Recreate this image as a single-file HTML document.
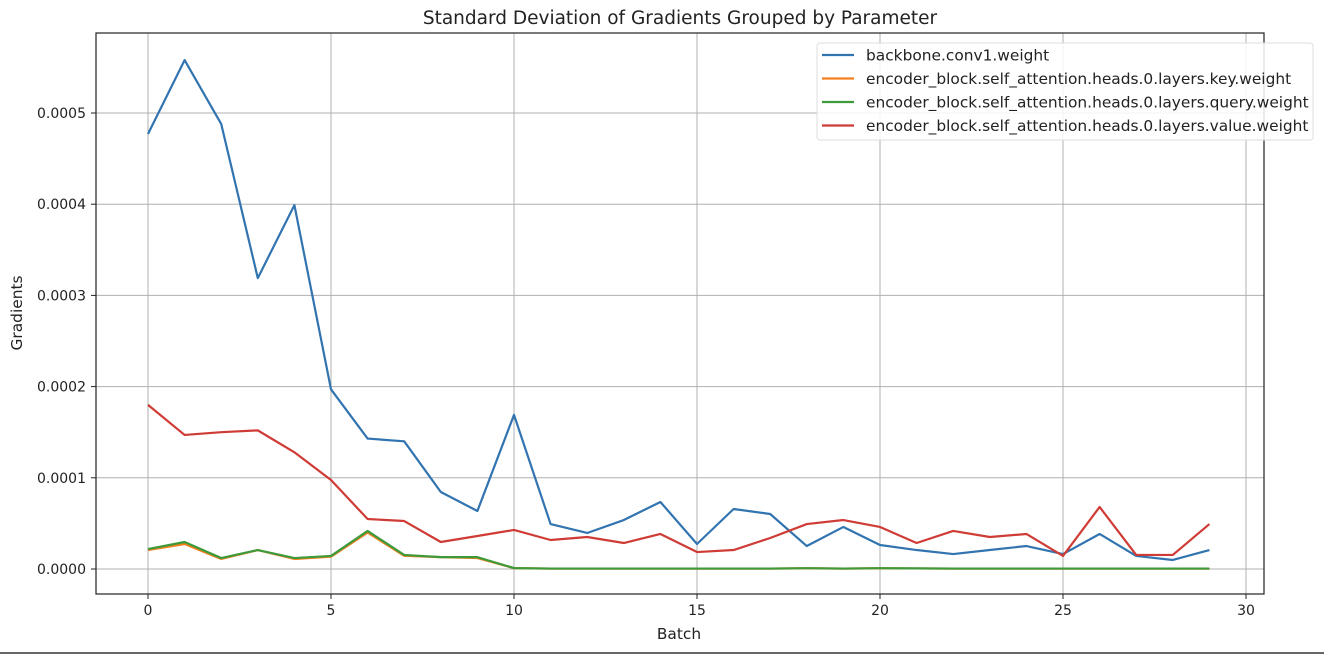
<!DOCTYPE html>
<html><head><meta charset="utf-8"><style>
html,body{margin:0;padding:0;background:#fff;}
svg{display:block;font-family:"DejaVu Sans","Liberation Sans",sans-serif;}
</style></head><body>
<svg id="chart" width="1324" height="654" viewBox="0 0 1324 654">
<rect width="1324" height="654" fill="#fff"/>
<line x1="0" y1="653" x2="1324" y2="653" stroke="#333" stroke-width="1.5"/>
<text x="680" y="24" text-anchor="middle" font-size="18.5" fill="#222">Standard Deviation of Gradients Grouped by Parameter</text>
<g id="grid"></g>
<g id="series"></g>
<rect x="96" y="33" width="1168" height="561" fill="none" stroke="#222" stroke-width="1.2"/>
<g id="ticks"></g>
<text x="679" y="639" text-anchor="middle" font-size="15.4" fill="#222">Batch</text>
<text transform="translate(22,313) rotate(-90)" text-anchor="middle" font-size="15.4" fill="#222">Gradients</text>
<g id="legend">
<rect x="817" y="43" width="496" height="97" rx="3" fill="#fff" fill-opacity="0.85" stroke="#ddd"/>
</g>
</svg>
<script>
const batches=[0,1,2,3,4,5,6,7,8,9,10,11,12,13,14,15,16,17,18,19,20,21,22,23,24,25,26,27,28,29];
const seriesNames=["backbone.conv1.weight","encoder_block.self_attention.heads.0.layers.key.weight","encoder_block.self_attention.heads.0.layers.query.weight","encoder_block.self_attention.heads.0.layers.value.weight"];
const seriesColors=["#3274b0","#f47f1f","#3d9a3a","#cf3b35"];
const backboneVals=[0.000477,0.000558,0.000488,0.000319,0.000399,0.000197,0.000143,0.000140,0.0000844,0.0000636,0.000169,0.0000493,0.0000395,0.0000537,0.0000735,0.0000274,0.0000658,0.0000603,0.0000252,0.0000461,0.0000263,0.0000208,0.0000164,0.0000208,0.0000252,0.0000164,0.0000384,0.0000143,0.0000099,0.0000208];
const keyVals=[0.0000208,0.0000274,0.000011,0.0000208,0.000011,0.0000135,0.000040,0.0000145,0.000013,0.000012,0.000001,0.0000004,0.0000004,0.0000004,0.0000004,0.0000004,0.0000004,0.0000004,0.0000008,0.0000004,0.0000008,0.0000006,0.0000004,0.0000004,0.0000004,0.0000004,0.0000004,0.0000004,0.0000004,0.0000004];
const queryVals=[0.0000219,0.0000296,0.000012,0.0000208,0.000012,0.0000143,0.0000417,0.0000154,0.000013,0.000013,0.000001,0.0000005,0.0000005,0.0000005,0.0000005,0.0000005,0.0000005,0.0000005,0.0000009,0.0000005,0.0000009,0.0000007,0.0000005,0.0000005,0.0000005,0.0000005,0.0000005,0.0000005,0.0000005,0.0000005];
const valueVals=[0.000180,0.000147,0.000150,0.000152,0.000128,0.0000976,0.0000548,0.0000526,0.0000296,0.0000362,0.0000428,0.0000318,0.0000351,0.0000285,0.0000384,0.0000186,0.0000208,0.000034,0.0000493,0.0000537,0.0000461,0.0000285,0.0000417,0.0000351,0.0000384,0.0000143,0.000068,0.0000154,0.0000154,0.0000493];
const xTicks=[0,5,10,15,20,25,30];
const yTicks=[0,0.0001,0.0002,0.0003,0.0004,0.0005];
const yTickLabels=["0.0000","0.0001","0.0002","0.0003","0.0004","0.0005"];

const NS="http://www.w3.org/2000/svg";
const X=v=>148+v*(331-148)/5;
const Y=v=>569-v*91.2/0.0001;
function mk(tag,attrs,parent){const e=document.createElementNS(NS,tag);for(const k in attrs)e.setAttribute(k,attrs[k]);parent.appendChild(e);return e;}
const grid=document.getElementById('grid'),ticks=document.getElementById('ticks'),sg=document.getElementById('series'),lg=document.getElementById('legend');
xTicks.forEach(t=>{
  const l=mk('line',{x1:X(t),x2:X(t),y1:33,y2:594,stroke:'#b0b0b0','stroke-width':1},grid);
  
  
  mk('line',{x1:X(t),x2:X(t),y1:594,y2:599,stroke:'#222'},ticks);
  const tx=mk('text',{x:X(t),y:615,'text-anchor':'middle','font-size':14,fill:'#222'},ticks);
  tx.textContent=t;
  
  
});
yTicks.forEach((t,i)=>{
  const l=mk('line',{x1:96,x2:1264,y1:Y(t),y2:Y(t),stroke:'#b0b0b0','stroke-width':1},grid);
  
  
  mk('line',{x1:91,x2:96,y1:Y(t),y2:Y(t),stroke:'#222'},ticks);
  const tx=mk('text',{x:86,y:Y(t)+5,'text-anchor':'end','font-size':14,fill:'#222'},ticks);
  tx.textContent=yTickLabels[i];
  
  
});
const allVals=[backboneVals,keyVals,queryVals,valueVals];
const lineNames=['backbone-line','key-line','query-line','value-line'];
allVals.forEach((vals,i)=>{
  const p=mk('polyline',{points:batches.map((b,j)=>X(b)+','+Y(vals[j])).join(' '),fill:'none',stroke:seriesColors[i],'stroke-width':2.2,'stroke-linejoin':'round'},sg);
  
  
  const yy=55+i*23.5;
  mk('line',{x1:822,x2:854,y1:yy,y2:yy,stroke:seriesColors[i],'stroke-width':2.2},lg);
  const tx=mk('text',{x:866,y:yy+5.5,'font-size':15.4,fill:'#222'},lg);
  tx.textContent=seriesNames[i];
  
  
});
</script>
</body></html>
